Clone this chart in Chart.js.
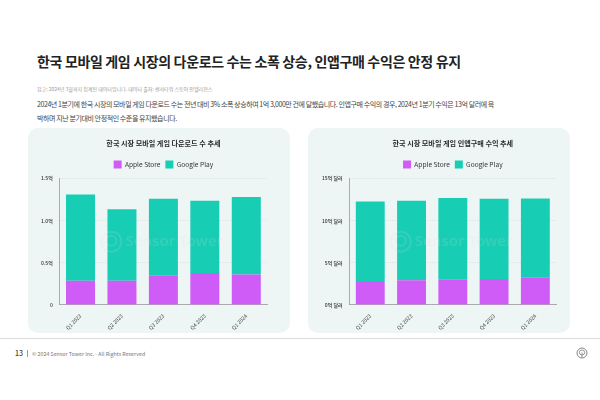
<!DOCTYPE html>
<html><head><meta charset="utf-8">
<script src="https://cdn.jsdelivr.net/npm/chart.js@4"></script>
<style>
html,body{margin:0;padding:0;background:#fff;}
body{width:600px;height:400px;position:relative;overflow:hidden;font-family:"Noto Sans CJK KR","Noto Sans",sans-serif;color:#222;}
#title{position:absolute;left:37px;top:51px;font-size:14px;font-weight:700;white-space:nowrap;letter-spacing:-0.35px;}
#note{position:absolute;left:37px;top:85px;font-size:5px;color:#999;white-space:nowrap;}
#para{position:absolute;left:37px;top:96.5px;font-size:7px;line-height:14px;color:#444;white-space:nowrap;letter-spacing:-0.42px;}
.panel{position:absolute;top:128px;width:262px;height:205px;background:#eef6f5;border-radius:10px;}
#p1{left:28px;}#p2{left:308px;}
.panel canvas{position:absolute;left:0;top:0;}
#sep{position:absolute;left:0;top:338px;width:600px;height:1px;background:#dcdcdc;}
#foot{position:absolute;left:15px;top:348px;font-size:5.3px;color:#777;white-space:nowrap;}
#foot b{font-size:7px;color:#444;font-weight:500;margin-right:4px;}
#foot span.bar{display:inline-block;width:1px;height:7px;background:#999;margin-right:4px;vertical-align:-1px;}
#logo{position:absolute;left:576px;top:347px;}
</style></head><body>
<div id="title">한국 모바일 게임 시장의 다운로드 수는 소폭 상승, 인앱구매 수익은 안정 유지</div>
<div id="note">참고: 2024년 3월까지 집계된 데이터입니다. 데이터 출처: 센서타워 스토어 인텔리전스</div>
<div id="para">2024년 1분기에 한국 시장의 모바일 게임 다운로드 수는 전년 대비 3% 소폭 상승하여 1억 3,000만 건에 달했습니다. 인앱구매 수익의 경우, 2024년 1분기 수익은 13억 달러에 육<br>박하며 지난 분기대비 안정적인 수준을 유지했습니다.</div>
<div class="panel" id="p1"><canvas id="c1" width="262" height="205"></canvas></div>
<div class="panel" id="p2"><canvas id="c2" width="262" height="205"></canvas></div>
<div id="sep"></div>
<div id="foot"><b>13</b><span class="bar"></span>© 2024 Sensor Tower Inc. - All Rights Reserved</div>
<svg id="logo" width="12" height="12" viewBox="0 0 12 12"><circle cx="6" cy="6" r="5" fill="none" stroke="#888" stroke-width="1"/><circle cx="6" cy="5.5" r="2.6" fill="none" stroke="#888" stroke-width="0.9"/><line x1="6" y1="5.5" x2="6" y2="11" stroke="#888" stroke-width="0.9"/></svg>
<script>
const quarters = ['Q1 2023','Q2 2023','Q3 2023','Q4 2023','Q1 2024'];
// downloads, in 억 (100M)
const dlApple  = [0.285, 0.285, 0.345, 0.377, 0.36];
const dlGoogle = [1.025, 0.85, 0.915, 0.86, 0.92];
// IAP revenue, in 억 달러
const revApple  = [2.84, 2.92, 3.03, 3.08, 3.27];
const revGoogle = [9.43, 9.44, 9.67, 9.52, 9.36];
const dlTicks = [0, 0.5, 1.0, 1.5];
const revTicks = [0, 5, 10, 15];

const APPLE = '#cf5cf6', GOOGLE = '#17cdb3';
const FONT = '"Noto Sans CJK KR","Noto Sans",sans-serif';

const watermark = {
  id:'watermark',
  afterDatasetsDraw(chart){
    const {ctx, chartArea:a} = chart;
    const cx = (a.left+a.right)/2, cy = (a.top+a.bottom)/2;
    ctx.save();
    ctx.fillStyle = 'rgba(215,225,225,0.16)';
    ctx.strokeStyle = 'rgba(215,225,225,0.16)';
    ctx.lineWidth = 2;
    ctx.beginPath(); ctx.arc(cx-52, cy, 10, 0, Math.PI*2); ctx.stroke();
    ctx.beginPath(); ctx.arc(cx-52, cy-1, 5, 0, Math.PI*2); ctx.stroke();
    ctx.font = '600 15px "Noto Sans", sans-serif';
    ctx.textBaseline = 'middle';
    ctx.fillText('Sensor Tower', cx-38, cy);
    ctx.restore();
  }
};
// center title and legend over the plot area (as in the reference)
const centerOnPlot = {
  id:'centerOnPlot',
  afterLayout(chart){
    const a = chart.chartArea;
    [chart.titleBlock, chart.legend].forEach(b => { if (b) { b.left = a.left; b.right = a.right; b.width = a.right - a.left; } });
  }
};

function makeChart(id, title, apple, google, ticks, fmt, padLeft, padRight){
  new Chart(document.getElementById(id), {
    type:'bar',
    data:{labels:quarters, datasets:[
      {label:'Apple Store', data:apple, backgroundColor:APPLE, barPercentage:0.7, categoryPercentage:1},
      {label:'Google Play', data:google, backgroundColor:GOOGLE, barPercentage:0.7, categoryPercentage:1}
    ]},
    options:{
      responsive:false, animation:false, devicePixelRatio:1,
      layout:{padding:{left:padLeft, right:padRight, top:9, bottom:2}},
      plugins:{
        title:{display:true, text:title, color:'#2a2a2a', font:{family:FONT, size:7.1, weight:'600'}, padding:{top:2, bottom:8}},
        legend:{labels:{boxWidth:8, boxHeight:8, color:'#333', font:{family:FONT, size:6.6}, padding:5}},
        tooltip:{enabled:false}
      },
      scales:{
        x:{stacked:true, grid:{display:false}, border:{color:'#999', width:0.8},
           ticks:{color:'#444', font:{family:FONT, size:5.2}, maxRotation:45, minRotation:45, padding:0}},
        y:{stacked:true, min:ticks[0], max:ticks[ticks.length-1],
           afterBuildTicks(ax){ ax.ticks = ticks.map(v=>({value:v})); },
           grid:{color:'#c8d0cf', lineWidth:0.6, drawTicks:false}, border:{color:'#999', width:0.8, dash:[1,1.5]},
           ticks:{color:'#333', font:{family:FONT, size:5, weight:'500'}, padding:7, callback:fmt}}
      }
    },
    plugins:[watermark, centerOnPlot]
  });
}
makeChart('c1','한국 시장 모바일 게임 다운로드 수 추세', dlApple, dlGoogle, dlTicks,
  v => v===0 ? '0' : v.toFixed(1)+'억', 6, 23);
makeChart('c2','한국 시장 모바일 게임 인앱구매 수익 추세', revApple, revGoogle, revTicks,
  v => v+'억 달러', 7, 14);
</script>
</body></html>
